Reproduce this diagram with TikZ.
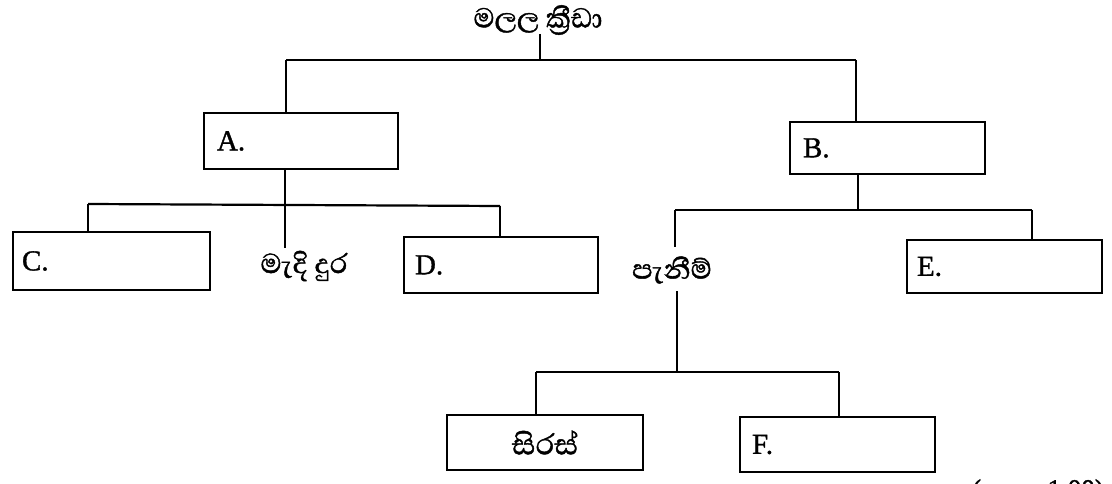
\documentclass[tikz,border=0pt]{standalone}
\usepackage{fontspec}
\setmainfont{Liberation Serif}[FakeBold=1]
\newfontfamily\latinfont{Liberation Serif}[FakeBold=1.2]
\newfontfamily\sinhalafont{Abhaya Libre}[Script=Sinhala,FakeBold=1.2]
\begin{document}
\begin{tikzpicture}[x=1pt,y=-1pt,
  box/.style={draw,line width=2.6pt,minimum height=#1,inner sep=0pt,font=\latinfont\fontsize{29}{31}\selectfont},
  lbl/.style={font=\sinhalafont\fontsize{35}{37}\selectfont,inner sep=1pt},
  conn/.style={line width=2.2pt}]
\useasboundingbox (0,0) rectangle (1112,484);
% title
\node[lbl] (title) at (538,20) {මලල ක්‍රීඩා};
% boxes
\node[box=56pt,minimum width=194pt,text width=168pt,align=left] (A) at (301,141) {A.};
\node[box=52pt,minimum width=195pt,text width=169pt,align=left] (B) at (887.5,148) {B.};
\node[box=58pt,minimum width=197pt,text width=179pt,align=left] (C) at (111.5,261) {C.};
\node[box=56pt,minimum width=194pt,text width=172pt,align=left] (D) at (501,265) {D.};
\node[box=53pt,minimum width=195pt,text width=175pt,align=left] (E) at (1004.5,266.5) {E.};
\node[box=55pt,minimum width=196pt,text width=196pt,align=center,font=\sinhalafont\fontsize{37}{39}\selectfont] (S) at (545,442.5) {සිරස්};
\node[box=55pt,minimum width=195pt,text width=171pt,align=left] (F) at (837.5,444.5) {F.};
% free labels
\node[lbl] (M) at (304,266) {මැදි දුර};
\node[lbl] (P) at (672,270) {පැනීම්};
% coordinates
\coordinate (t0) at (540,60);
\coordinate (tl) at (286,60);
\coordinate (tr) at (856,60);
\coordinate (a0) at (285,205);
\coordinate (al) at (88,204);
\coordinate (ar) at (500,206);
\coordinate (b0) at (858,210);
\coordinate (bl) at (675,210);
\coordinate (br) at (1032,210);
\coordinate (p0) at (677,372);
\coordinate (pl) at (536,372);
\coordinate (pr) at (839,372);
% connectors
\draw[conn] (t0 |- 0,34) coordinate (t1) -- (t0);
\draw[conn] (tl) -- (tr);
\draw[conn] (tl) -- (tl |- A.north);
\draw[conn] (tr) -- (tr |- B.north);
\draw[conn] (a0 |- A.south) -- (a0) -- (285,248) coordinate (a1);
\draw[conn] (al) -- (ar);
\draw[conn] (al) -- (al |- C.north);
\draw[conn] (ar) -- (ar |- D.north);
\draw[conn] (b0 |- B.south) -- (b0);
\draw[conn] (bl) -- (br);
\draw[conn] (br) -- (br |- E.north);
\draw[conn] (bl) -- (675,247) coordinate (b1);
\draw[conn] (677,291) coordinate (p1) -- (p0);
\draw[conn] (pl) -- (pr);
\draw[conn] (pl) -- (pl |- S.north);
\draw[conn] (pr) -- (pr |- F.north);
% partly cut mark note
\begin{scope}
\clip (0,0) rectangle (1112,484);
\node[anchor=base west,inner sep=0pt,font=\latinfont\fontsize{27}{29}\selectfont] (N) at (972,498) {(\sinhalafont ලකුණු\ \latinfont 1.00)};
\end{scope}
\end{tikzpicture}
\end{document}
